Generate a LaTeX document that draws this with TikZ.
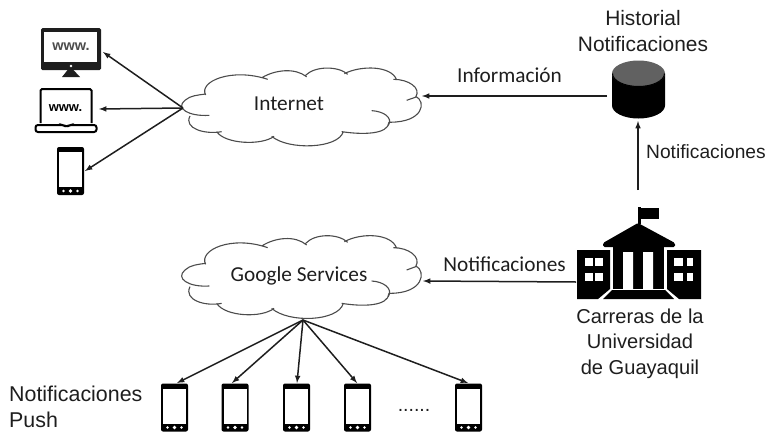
\documentclass[tikz,border=0pt]{standalone}
\usepackage{fontspec}
\setmainfont{Liberation Sans}
\newfontfamily\calibrifont{Carlito}
\usetikzlibrary{arrows,positioning,shapes.geometric}
\definecolor{inkgray}{HTML}{1E1E1E}
\tikzset{%
	arrow/.style     = {line width=1.5pt,-latex,>=stealth,color=inkgray},
	arial/.style     = {text=inkgray, font=\fontsize{#1}{25.5}\selectfont, align=center, inner sep=0pt},
	calibri/.style   = {text=inkgray, font=\calibrifont\fontsize{21.3}{24}\selectfont, inner sep=0pt},
	nube/.pic = {
		\draw[draw=black!70, line width=1.1pt, fill=white, x=1pt/3, y=-1pt/3]
			(92,118) .. controls (70,75) and (170,30) .. (278,68)
			(262,62) .. controls (300,38) and (360,30) .. (395,60)
			(392,55) .. controls (420,25) and (490,25) .. (518,52)
			(508,50) .. controls (560,22) and (650,25) .. (665,70)
			(655,68) .. controls (700,68) and (740,95) .. (722,125) -- (695,135)
			(722,122) .. controls (755,140) and (745,205) .. (645,205)
			(590,168) .. controls (625,170) and (655,190) .. (640,215)
			(642,205) .. controls (640,245) and (560,245) .. (500,235)
			(505,235) .. controls (490,290) and (340,295) .. (290,250)
			(297,250) .. controls (260,280) and (150,275) .. (125,235)
			(140,235) .. controls (90,245) and (25,225) .. (45,185)
			(103,183) .. controls (40,187) and (0,160) .. (30,135) .. controls (45,120) and (70,118) .. (92,115);
	},
	basedatos/.pic = {
		\fill[black] (-26.5,-16) -- (-26.5,16) arc[start angle=180, end angle=360, x radius=26.5, y radius=-13] -- (26.5,-16) -- cycle;
		\fill[black!62] (0,-16) ellipse (26.5 and 13);
		\draw[black, line width=1pt] (-26,-16) arc[start angle=180, end angle=360, x radius=26, y radius=-13];
	},
	phone/.pic = {
		\fill[black, rounded corners=2pt] (-13.5,-24) rectangle (13.5,24);
		\fill[white] (-11.5,-19) rectangle (11.5,16);
		\fill[white] (-7,20) circle (1.3) (0,20) circle (1.8) (7,20) circle (1.3);
	},
	monitor/.pic = {
		\fill[inkgray, rounded corners=1.5pt] (-30,-24.5) rectangle (30,17.5);
		\fill[white] (-27,-20.5) rectangle (26,9.5);
		\fill[white] (0,13.5) circle (1.3);
		\fill[inkgray] (-3,17) -- (2,17) -- (9,24.5) -- (-9,24.5) -- cycle;
		\node[text=black!70, font=\bfseries\fontsize{14.5}{16}\selectfont, inner sep=0pt] (txt) at (0,-6) {www.};
	},
	laptop/.pic = {
		\draw[black, line width=2pt, rounded corners=1.5pt] (-25,13) -- (-25,-21) -- (26,-21) -- (26,13);
		\draw[black, line width=2pt, fill=white, rounded corners=2.5pt] (-30,15) -- (-2,15) -- (1,17) -- (4,15) -- (31,15) -- (31,22) -- (-30,22) -- cycle;
		\node[text=black, font=\bfseries\fontsize{13}{15}\selectfont, inner sep=0pt] (txt) at (0,-2) {www.};
	},
}
\begin{document}
\begin{tikzpicture}[x=1pt,y=-1pt]
	\useasboundingbox (0,0) rectangle (766,434);
	
	% nubes
	\pic[yscale=0.94] (cloudi) at (175,58) {nube};
	\pic (cloudg) at (175,225) {nube};
	\node[calibri] (internetlabel) at (289,104) {Internet};
	\node[calibri] (googlelabel) at (299,276) {Google Services};
	
	% dispositivos
	\pic (mon) at (71,52.5) {monitor};
	\pic (lap) at (65.5,110) {laptop};
	\pic (cel) at (70.5,171) {phone};
	\coordinate (monend) at (103,52);
	\coordinate (lapend) at (99,109);
	\coordinate (celend) at (85,171);
	\coordinate (internetl) at (183,108);
	\draw[arrow] (internetl) -- (monend);
	\draw[arrow] (internetl) -- (lapend);
	\draw[arrow] (internetl) -- (celend);
	
	% historial
	\pic (historial) at (638.5,89.5) {basedatos};
	\node[arial=20.9] (historiallabel) at (643,31) {Historial\\Notificaciones};
	\coordinate (historialin) at (607,96);
	\coordinate (internetr) at (422,96);
	\draw[arrow] (historialin) -- (internetr);
	\node[calibri] (infolabel) at (509.5,75) {Información};
	
	% carreras
	\fill[black] (577,250) -- (610,250) -- (610,289) -- (598,299) -- (577,299) -- cycle;
	\fill[black] (667,250) -- (701,250) -- (701,299) -- (679,299) -- (667,289) -- cycle;
	\fill[black] (613,246) rectangle (664,289);
	\fill[black, rounded corners=1.5pt] (638,223) -- (675,243) -- (675,247) -- (603,247) -- (603,243) -- cycle;
	\fill[black] (603,299) -- (612,290) -- (665,290) -- (674,299) -- cycle;
	\fill[black] (637.5,207) rectangle (641,224);
	\fill[black] (641,208) -- (659,208) -- (659,219) -- (641,219) -- cycle;
	\fill[white] (623,252) rectangle (633,289) (643,252) rectangle (653,289);
	\foreach \wx/\ww in {585/8,595/8,674/9,687/6}
		\foreach \wy in {258,273}
			\fill[white] (\wx,\wy) rectangle ++(\ww,7.5);
	\node[arial=20.1] (carreraslabel) at (640,343.5) {Carreras de la\\Universidad\\de Guayaquil};
	\coordinate (carrerastop) at (638,190);
	\coordinate (historialbot) at (638,121);
	\coordinate (carrerasl) at (576,282);
	\coordinate (googler) at (423,281);
	\draw[arrow] (carrerastop) -- (historialbot);
	\draw[arrow] (carrerasl) -- (googler);
	\node[arial=19.2, anchor=west] (histnotilabel) at (646,152) {Notificaciones};
	\node[calibri] (googlenotilabel) at (504.5,264) {Notificaciones};
	
	% push
	\node[arial=21.4, anchor=west, align=left] (pushlabel) at (9,407) {Notificaciones\\Push};
	\coordinate (googlebot) at (303,320);
	\foreach \n/\px/\tipx in {a/174.5/177,b/235/232,c/296.5/297,d/357.5/357,e/468.5/468} {
		\pic (push\n) at (\px,407.5) {phone};
		\coordinate (tip\n) at (\tipx,383);
		\draw[arrow] (googlebot) -- (tip\n);
	}
	\node[arial=19.5] (dots) at (414,410) {......};
\end{tikzpicture}
\end{document}
